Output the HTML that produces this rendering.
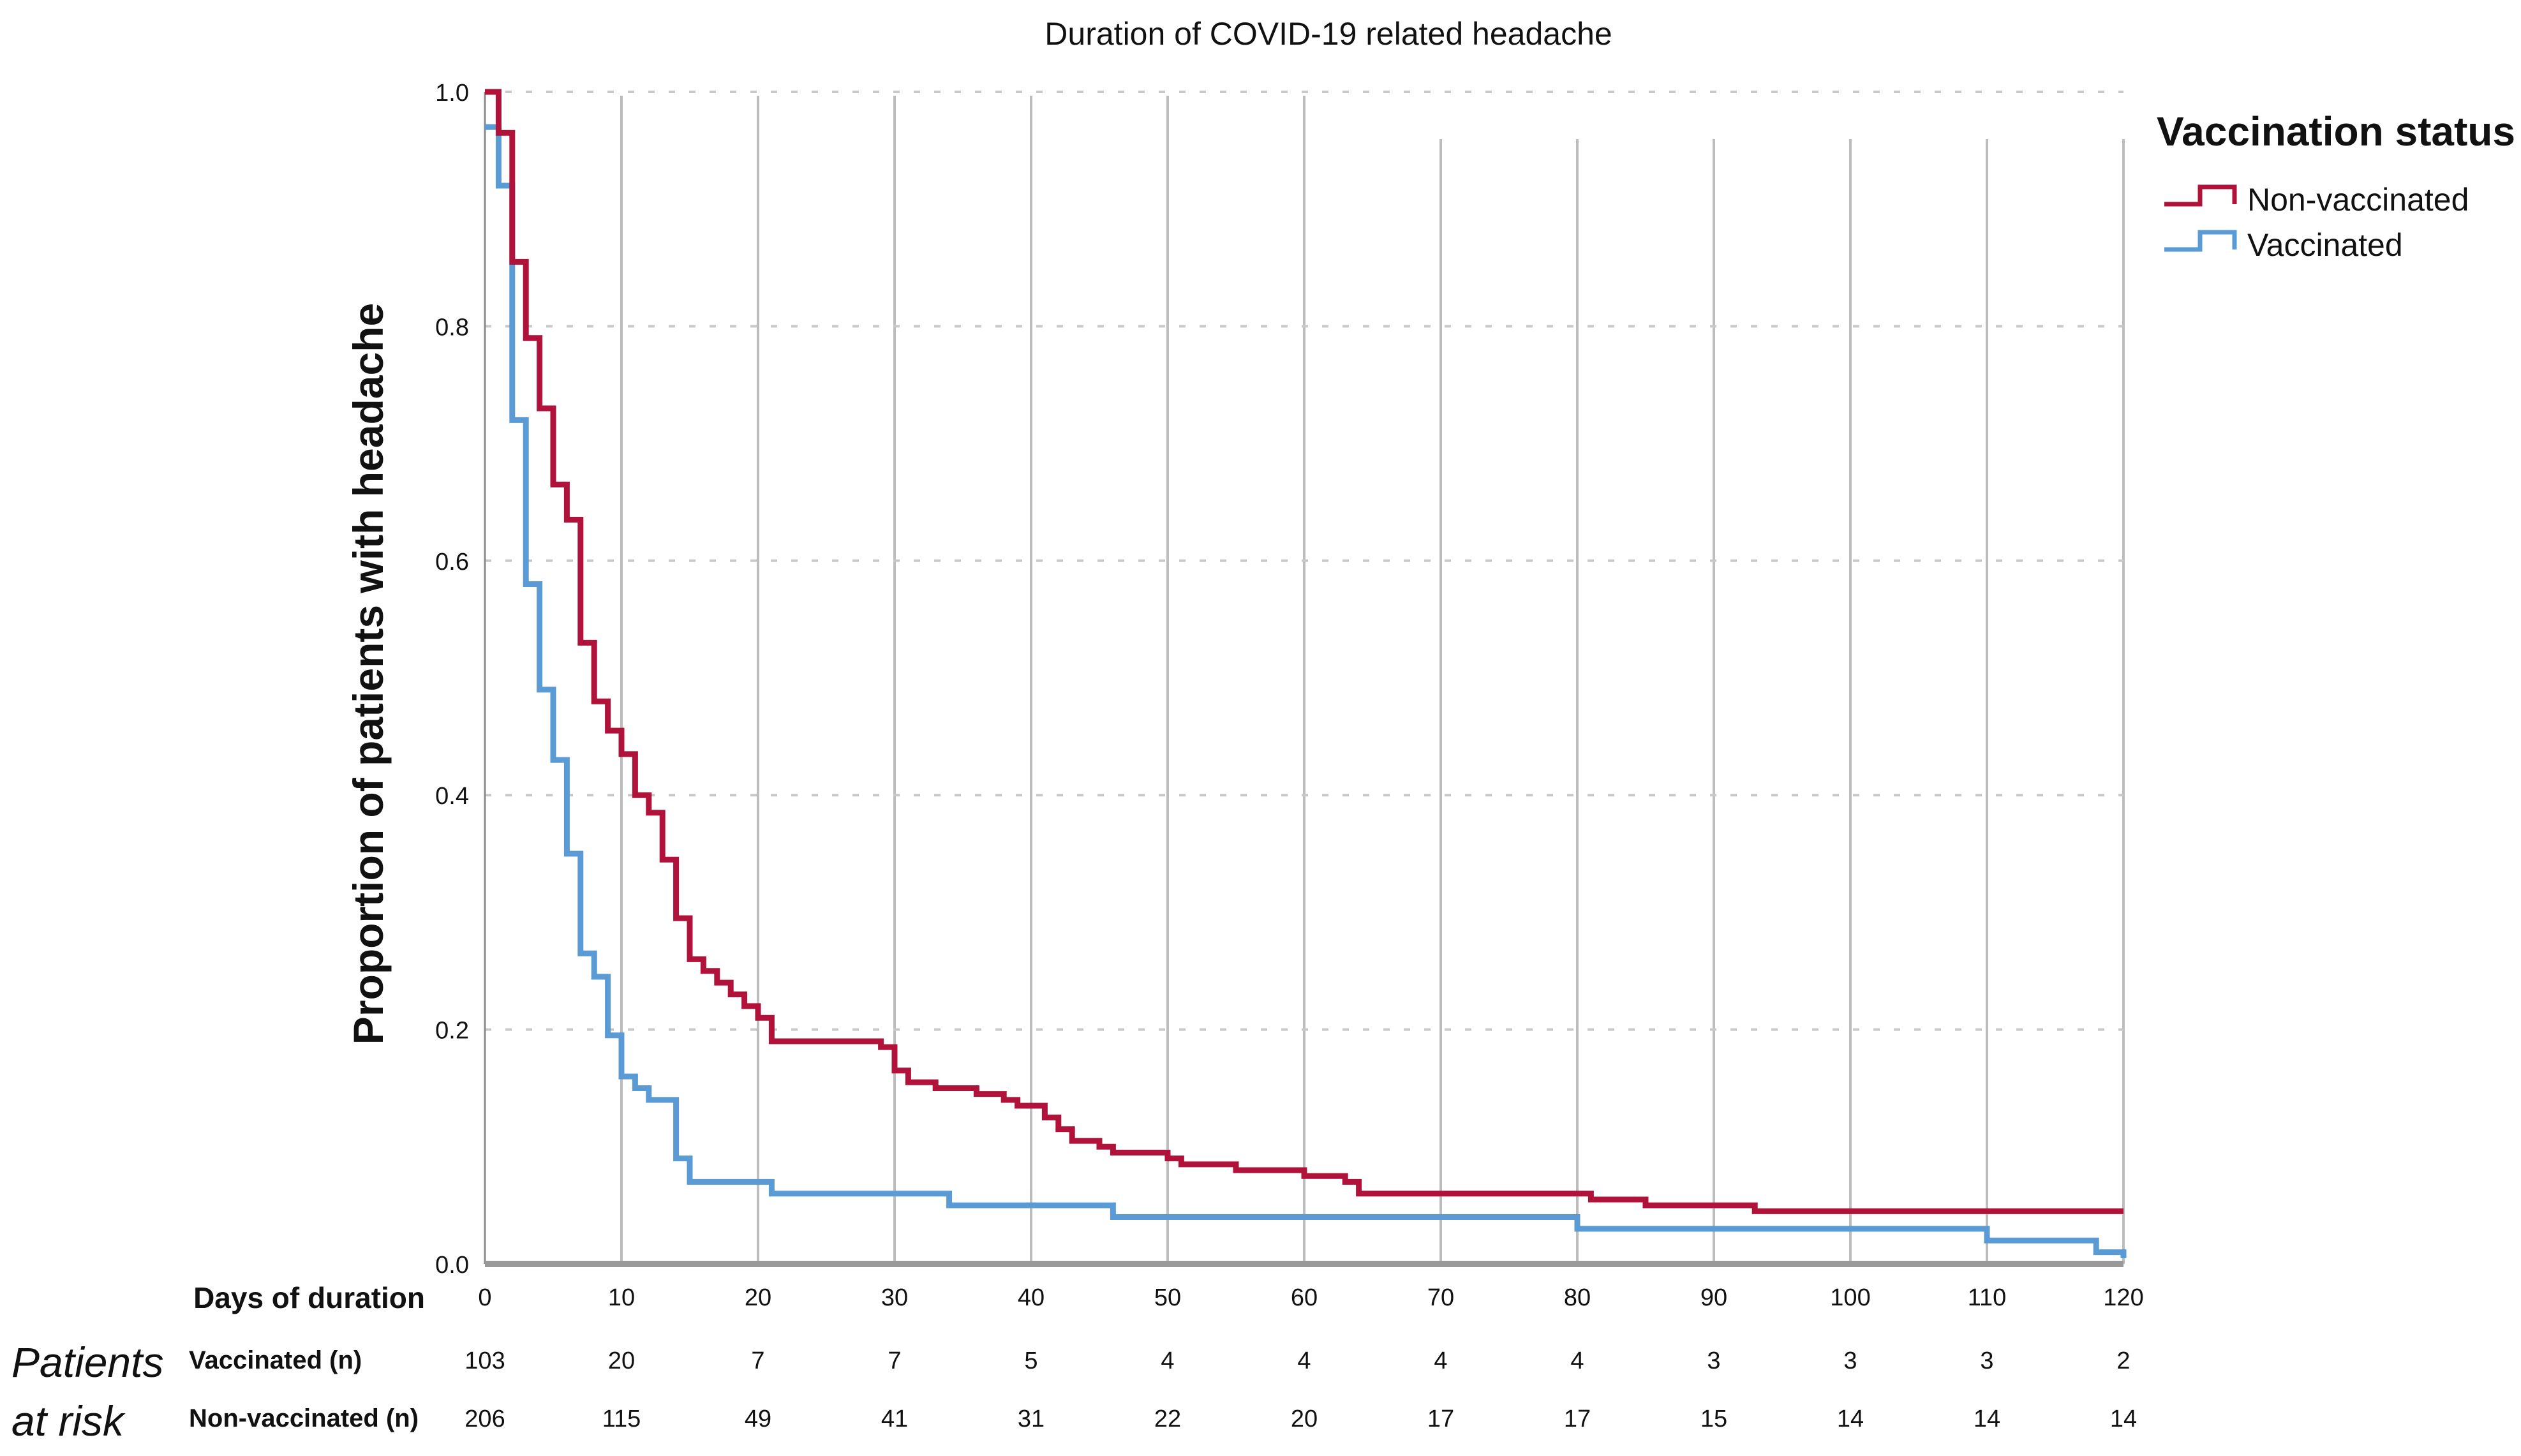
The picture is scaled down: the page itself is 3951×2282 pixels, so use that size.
<!DOCTYPE html>
<html><head><meta charset="utf-8"><style>
html,body{margin:0;padding:0;background:#fff;}
svg{display:block;font-family:"Liberation Sans",sans-serif;}
</style></head><body>
<svg id="chart" width="3951" height="2282" viewBox="0 0 3951 2282" xmlns="http://www.w3.org/2000/svg">
<rect width="3951" height="2282" fill="#fff"/>
<text x="2082" y="70" text-anchor="middle" font-size="50" fill="#111">Duration of COVID-19 related headache</text>
<text transform="translate(600,1056) rotate(-90)" text-anchor="middle" font-size="66" font-weight="bold" fill="#111">Proportion of patients with headache</text>
<g id="grid"></g>
<g id="yticks"></g>
<g id="series"></g>
<g id="xticks"></g>
<g>
<text x="3380" y="228" font-size="64" font-weight="bold" fill="#111">Vaccination status</text>
<path d="M3392 320 H3448 V293 H3502 V320" fill="none" stroke="#b0123a" stroke-width="7"/>
<text x="3522" y="330" font-size="50" fill="#111">Non-vaccinated</text>
<path d="M3392 391 H3448 V364 H3502 V391" fill="none" stroke="#5b9bd5" stroke-width="7"/>
<text x="3522" y="401" font-size="50" fill="#111">Vaccinated</text>
</g>
<text x="666" y="2050" text-anchor="end" font-size="46" font-weight="bold" fill="#111">Days of duration</text>
<text x="18" y="2158" font-size="66" font-style="italic" fill="#111">Patients</text>
<text x="18" y="2250" font-size="66" font-style="italic" fill="#111">at risk</text>
<text x="296" y="2145" font-size="40" font-weight="bold" fill="#111">Vaccinated (n)</text>
<text x="296" y="2236" font-size="40" font-weight="bold" fill="#111">Non-vaccinated (n)</text>
<g id="risk"></g>
</svg>
<script>
const xTicks=[0,10,20,30,40,50,60,70,80,90,100,110,120];
const yTicks=[0,0.2,0.4,0.6,0.8,1.0];
const yTickLabels=["0.0","0.2","0.4","0.6","0.8","1.0"];
const riskVacc=[103,20,7,7,5,4,4,4,4,3,3,3,2];
const riskNon=[206,115,49,41,31,22,20,17,17,15,14,14,14];
const nonDays=[0,1,2,3,4,5,6,7,8,9,10,11,12,13,14,15,16,17,18,19,20,21,23,29,30,31,33,36,38,39,41,42,43,45,46,50,51,55,60,63,64,81,85,93,120];
const nonVals=[1.0,0.965,0.855,0.79,0.73,0.665,0.635,0.53,0.48,0.455,0.435,0.40,0.385,0.345,0.295,0.26,0.25,0.24,0.23,0.22,0.21,0.19,0.19,0.185,0.165,0.155,0.15,0.145,0.14,0.135,0.125,0.115,0.105,0.10,0.095,0.09,0.085,0.08,0.075,0.07,0.06,0.055,0.05,0.045,0.045];
const vacDays=[0,1,2,3,4,5,6,7,8,9,10,11,12,14,15,21,34,46,80,110,118,120];
const vacVals=[0.97,0.92,0.72,0.58,0.49,0.43,0.35,0.265,0.245,0.195,0.16,0.15,0.14,0.09,0.07,0.06,0.05,0.04,0.03,0.02,0.01,0.005];
const X0=760,X1=3328,Y0=1981,Y1=144;
const xs=d=>X0+(X1-X0)*d/120;
const ys=v=>Y0-(Y0-Y1)*v;
const NS="http://www.w3.org/2000/svg";
function mk(tag,attrs,parent,txt){const e=document.createElementNS(NS,tag);for(const k in attrs)e.setAttribute(k,attrs[k]);if(txt!==undefined)e.textContent=txt;parent.appendChild(e);return e;}
const grid=document.getElementById('grid');
xTicks.forEach((d,i)=>{if(i===0)return;
 const l=mk('line',{x1:xs(d),x2:xs(d),y1:d>=70?218:150,y2:Y0,stroke:'#bdbdbd','stroke-width':4},grid);
 
 });
yTicks.forEach(v=>{if(v===0)return;
 const l=mk('line',{x1:X0,x2:X1,y1:ys(v),y2:ys(v),stroke:'#c8c8c8','stroke-width':4,'stroke-dasharray':'10 22'},grid);
 
 });
const ax=mk('line',{x1:X0,x2:X0,y1:Y1,y2:Y0,stroke:'#888','stroke-width':3},grid);


const bx=mk('line',{x1:X0,x2:X1,y1:Y0,y2:Y0,stroke:'#999','stroke-width':10},grid);


const yt=document.getElementById('yticks');
yTicks.forEach((v,i)=>{const t=mk('text',{x:735,y:ys(v)+14,'text-anchor':'end','font-size':38,fill:'#111'},yt,yTickLabels[i]);
 
 });
const xt=document.getElementById('xticks'),rk=document.getElementById('risk');
xTicks.forEach((d,i)=>{
 const t=mk('text',{x:xs(d),y:2046,'text-anchor':'middle','font-size':38,fill:'#111'},xt,String(d));
 
 
 const a=mk('text',{x:xs(d),y:2145,'text-anchor':'middle','font-size':38,fill:'#111'},rk,String(riskVacc[i]));
 
 
 const b=mk('text',{x:xs(d),y:2236,'text-anchor':'middle','font-size':38,fill:'#111'},rk,String(riskNon[i]));
 
 });
function stepPath(days,vals){let p='M'+xs(days[0])+' '+ys(vals[0]);
 for(let i=1;i<days.length;i++){p+=' H'+xs(days[i])+' V'+ys(vals[i]);}return p;}
const sg=document.getElementById('series');
const pv=mk('path',{d:stepPath(vacDays,vacVals),fill:'none',stroke:'#5b9bd5','stroke-width':9},sg);


const pn=mk('path',{d:stepPath(nonDays,nonVals),fill:'none',stroke:'#b0123a','stroke-width':9},sg);


</script>
</body></html>
